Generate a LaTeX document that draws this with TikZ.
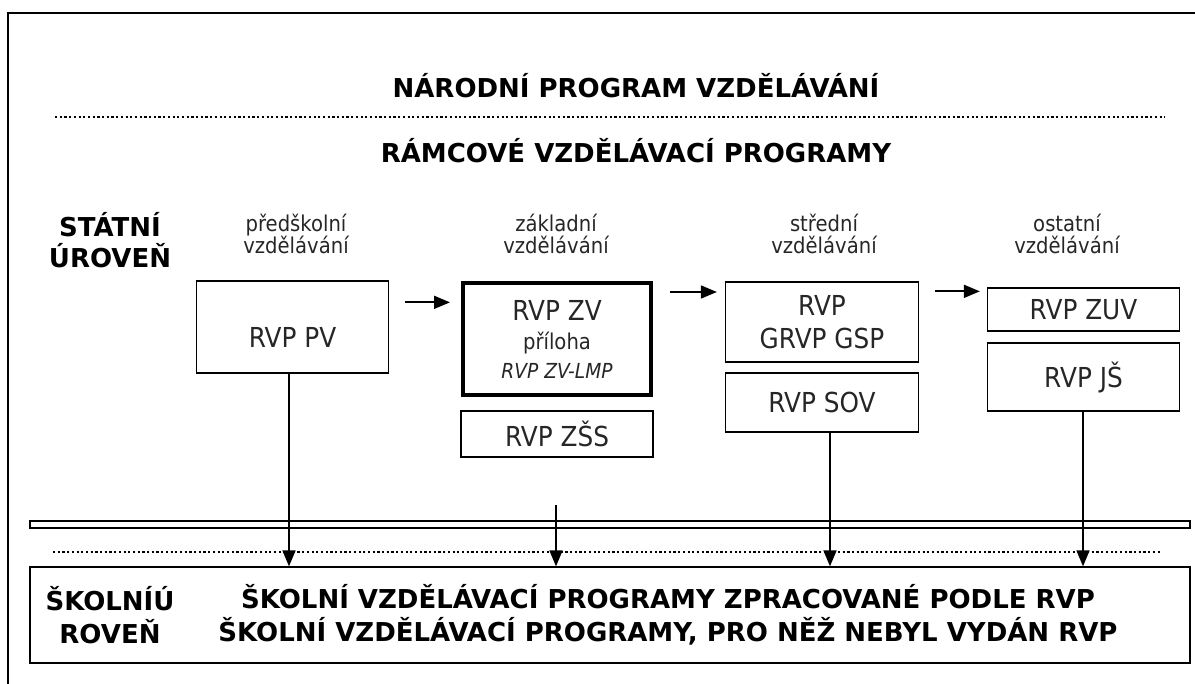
\documentclass[tikz,border=0pt]{standalone}
\usepackage{fontspec}
\setmainfont{DejaVu Sans}[FakeStretch=0.9]
\newfontfamily\titlefont{DejaVu Sans}
\usetikzlibrary{arrows.meta}

\begin{document}
\begin{tikzpicture}[x=1pt, y=-1pt,
    box/.style={draw, line width=1.3pt, inner sep=0pt, align=center, text=black!85,
        font=\fontsize{27.5}{33}\selectfont},
    heading/.style={align=center, font=\titlefont\bfseries\fontsize{26}{33}\selectfont},
    level/.style={align=center, text=black!85, font=\fontsize{21.8}{22}\selectfont},
    arr/.style={line width=1.7pt, -{Triangle[length=16pt, width=13pt]}},
    dots/.style={line width=2.2pt, dash pattern=on 2.2pt off 2.5pt}]

            \useasboundingbox (0,0) rectangle (1195,684);
            \clip (0,0) rectangle (1195,684);

            % Outer frame
            \draw[line width=1.8pt] (1200,13) -- (8,13) -- (8,690);

            % National level
            \node[heading] (narodni) at (636,86) {NÁRODNÍ PROGRAM VZDĚLÁVÁNÍ};
            \draw[dots] (55,117) -- (1165,117);
            \node[heading] (ramcove) at (636,151) {RÁMCOVÉ VZDĚLÁVACÍ PROGRAMY};

            % State level and its columns
            \node[heading, font=\titlefont\bfseries\fontsize{26}{31}\selectfont] (statni) at (110,240) {STÁTNÍ\\ÚROVEŇ};
            \node[level] (predskolni) at (296,234) {předškolní\\vzdělávání};
            \node[level] (zakladni) at (556,234) {základní\\vzdělávání};
            \node[level] (stredni) at (824,234) {střední\\vzdělávání};
            \node[level] (ostatni) at (1067,234) {ostatní\\vzdělávání};

            % Framework programmes
            \node[box, minimum width=192pt, minimum height=92pt, text height=41pt] (pv) at (292.5,327) {RVP PV};
            \node[box, line width=4pt, minimum width=188pt, minimum height=112pt,
                font=\fontsize{27.5}{29}\selectfont] (zv) at (557,339)
                {RVP ZV\\{\fontsize{21.8}{29}\selectfont příloha}\\{\fontsize{20.7}{29}\selectfont\itshape RVP ZV-LMP}};
            \node[box, minimum width=192pt, minimum height=46pt] (zss) at (557,434) {RVP ZŠS};
            \node[box, minimum width=193pt, minimum height=80pt] (gsp) at (822,322) {RVP\\GRVP GSP};
            \node[box, minimum width=193pt, minimum height=59pt] (sov) at (822,402.5) {RVP SOV};
            \node[box, minimum width=192pt, minimum height=43pt] (zuv) at (1083.5,309.5) {RVP ZUV};
            \node[box, minimum width=192pt, minimum height=68pt] (js) at (1083.5,377) {RVP JŠ};

            % Arrows between the columns
            \draw[arr, shorten <=16pt, shorten >=11pt] ([yshift=-22pt]pv.north east) -- ([yshift=-22pt]pv.north east -| zv.west);
            \draw[arr, shorten <=17pt, shorten >=8pt] ([yshift=-11pt]zv.north east) -- ([yshift=-11pt]zv.north east -| gsp.west);
            \draw[arr, shorten <=16pt, shorten >=7pt] ([yshift=-10pt]gsp.north east) -- ([yshift=-10pt]gsp.north east -| zuv.west);

            % Border between the levels
            \draw[line width=1.3pt] (30,521) rectangle (1190,528);
            \draw[dots] (53,552) -- (1162,552);

            % School level
            \node[box, minimum width=1160pt, minimum height=96pt] (skola) at (610,615) {};
            \node[heading] (skolniuroven) at (110,615) {ŠKOLNÍÚ\\ROVEŇ};
            \node[heading] (svp) at (668,615) {ŠKOLNÍ VZDĚLÁVACÍ PROGRAMY ZPRACOVANÉ PODLE RVP\\ŠKOLNÍ VZDĚLÁVACÍ PROGRAMY, PRO NĚŽ NEBYL VYDÁN RVP};

            % Arrows down to the school level
            \coordinate (zvstart) at (556,505);
            \draw[arr] ([xshift=-3.5pt]pv.south) -- ([xshift=-3.5pt]pv.south |- skola.north);
            \draw[arr] (zvstart) -- (zvstart |- skola.north);
            \draw[arr] ([xshift=8pt]sov.south) -- ([xshift=8pt]sov.south |- skola.north);
            \draw[arr] ([xshift=-0.5pt]js.south) -- ([xshift=-0.5pt]js.south |- skola.north);

        \end{tikzpicture}
\end{document}
